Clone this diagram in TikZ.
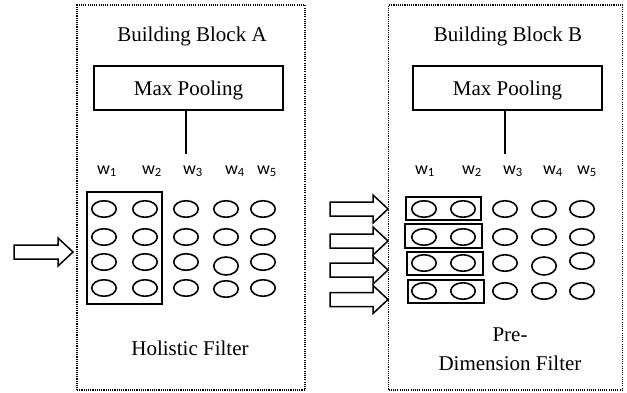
\documentclass[tikz,border=0pt]{standalone}
\usepackage{fontspec}
\setmainfont{Liberation Serif}
\newfontfamily\wfont{Carlito}
\usetikzlibrary{shapes.geometric}
\begin{document}
\begin{tikzpicture}[x=1pt,y=-1pt,
  blockframe/.style={draw, line width=1.2pt, dash pattern=on 1.1pt off 1.1pt, inner sep=0pt},
  title/.style={font=\fontsize{21}{29}\selectfont, inner sep=0pt, anchor=base},
  poolbox/.style={draw, line width=1.5pt, minimum width=189pt, minimum height=44pt,
    font=\fontsize{21}{24}\selectfont, inner sep=0pt, text height=14pt, text depth=0pt},
  wlabel/.style={font=\wfont\fontsize{18}{20}\selectfont, inner sep=0pt, anchor=base},
  cell/.style={draw, ellipse, line width=1.6pt, minimum width=24.5pt, minimum height=16.5pt, inner sep=0pt},
  filterbox/.style={draw, line width=1.5pt, inner sep=0pt},
  link/.style={line width=1.5pt},
  blockarrow/.style={draw, line width=1.5pt, line join=miter, fill=white},
]
\useasboundingbox (0,0) rectangle (627,392);

% one outlined block arrow: #1 = tail x, #2 = centre y, #3 = tip x
\newcommand{\blockarrowat}[3]{%
  \draw[blockarrow] (#1,#2-7) -- (#3-15,#2-7) -- (#3-15,#2-14) -- (#3,#2)
    -- (#3-15,#2+14) -- (#3-15,#2+7) -- (#1,#2+7) -- cycle;}

% ---------- Building block A ----------
\node[blockframe, minimum width=228pt, minimum height=385pt] (frameA) at (191,197.5) {};
\node[title] (titleA) at (192,41) {Building Block A};
\node[poolbox] (poolA) at (188.5,88) {Max Pooling};
\coordinate (tapA) at (186,154);
\draw[link] (poolA.south -| tapA) -- (tapA);

\node[wlabel] (wA1) at (107,174) {w\textsubscript{1}};
\node[wlabel] (wA2) at (152,174) {w\textsubscript{2}};
\node[wlabel] (wA3) at (193,174) {w\textsubscript{3}};
\node[wlabel] (wA4) at (235,174) {w\textsubscript{4}};
\node[wlabel] (wA5) at (267,174) {w\textsubscript{5}};

\foreach \r/\y in {1/209,2/237,3/262,4/288}{
  \node[cell] (a\r1) at (104,\y) {};
  \node[cell] (a\r2) at (145,\y) {};
  \node[cell] (a\r3) at (186,\y) {};
}
\node[cell] (a14) at (226,209) {};
\node[cell] (a15) at (263,209) {};
\node[cell] (a24) at (226,237) {};
\node[cell] (a25) at (263,237) {};
\node[cell, minimum height=18pt] (a34) at (226,266) {};
\node[cell] (a35) at (263,262) {};
\node[cell] (a44) at (226,289) {};
\node[cell] (a45) at (263,288) {};

\node[filterbox, minimum width=75pt, minimum height=112pt] (holistic) at (124.5,248) {};
\node[title] (capA) at (190,355) {Holistic Filter};

\blockarrowat{14}{252}{73}

% ---------- Building block B ----------
\node[blockframe, minimum width=234pt, minimum height=385pt] (frameB) at (505.5,197.5) {};
\node[title] (titleB) at (508,41) {Building Block B};
\node[poolbox] (poolB) at (507.5,88) {Max Pooling};
\coordinate (tapB) at (505,154);
\draw[link] (poolB.south -| tapB) -- (tapB);

\node[wlabel] (wB1) at (425,174) {w\textsubscript{1}};
\node[wlabel] (wB2) at (472,174) {w\textsubscript{2}};
\node[wlabel] (wB3) at (513,174) {w\textsubscript{3}};
\node[wlabel] (wB4) at (553,174) {w\textsubscript{4}};
\node[wlabel] (wB5) at (587,174) {w\textsubscript{5}};

\foreach \r/\y in {1/209,2/237,3/263,4/291}{
  \node[cell] (b\r1) at (424,\y) {};
  \node[cell] (b\r2) at (463,\y) {};
  \node[cell] (b\r3) at (505,\y) {};
}
\node[cell] (b14) at (544,209) {};
\node[cell] (b15) at (582,209) {};
\node[cell] (b24) at (544,237) {};
\node[cell] (b25) at (582,237) {};
\node[cell, minimum height=18pt] (b34) at (544,266) {};
\node[cell] (b35) at (582,261) {};
\node[cell] (b44) at (544,291) {};
\node[cell] (b45) at (582,291) {};

\node[filterbox, minimum width=75pt, minimum height=23pt] (row1) at (443.5,208.5) {};
\node[filterbox, minimum width=77pt, minimum height=24pt] (row2) at (443.5,236) {};
\node[filterbox, minimum width=76pt, minimum height=23pt] (row3) at (445,263.5) {};
\node[filterbox, minimum width=76pt, minimum height=23pt] (row4) at (446,291.5) {};

\node[title, anchor=center, align=center] (capB) at (510,349) {Pre-\\Dimension Filter};

\blockarrowat{330}{209}{388}
\blockarrowat{330}{241}{388}
\blockarrowat{330}{270}{388}
\blockarrowat{330}{299.5}{388}
\end{tikzpicture}
\end{document}
